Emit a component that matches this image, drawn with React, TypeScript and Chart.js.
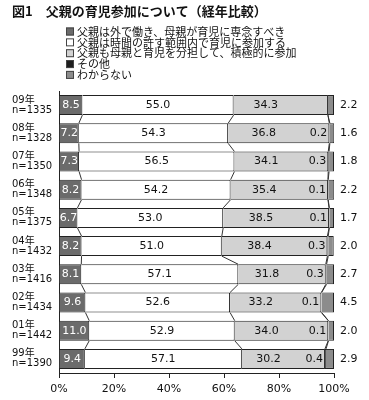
import { useEffect, useRef } from 'react';
import { Chart, registerables } from 'chart.js';

Chart.register(...registerables);

// ---- data ----
const years = ['09年', '08年', '07年', '06年', '05年', '04年', '03年', '02年', '01年', '99年'];
const sampleSizes = ['n=1335', 'n=1328', 'n=1350', 'n=1348', 'n=1375', 'n=1432', 'n=1416', 'n=1434', 'n=1442', 'n=1390'];
const seriesNames = [
  '父親は外で働き、母親が育児に専念すべき',
  '父親は時間の許す範囲内で育児に参加する',
  '父親も母親と育児を分担して、積極的に参加',
  'その他',
  'わからない',
];
const workOutside = [8.5, 7.2, 7.3, 8.2, 6.7, 8.2, 8.1, 9.6, 11.0, 9.4];
const whenTimeAllows = [55.0, 54.3, 56.5, 54.2, 53.0, 51.0, 57.1, 52.6, 52.9, 57.1];
const shareActively = [34.3, 36.8, 34.1, 35.4, 38.5, 38.4, 31.8, 33.2, 34.0, 30.2];
const otherAnswer = [0, 0.2, 0.3, 0.1, 0.1, 0.3, 0.3, 0.1, 0.1, 0.4];
const dontKnow = [2.2, 1.6, 1.8, 2.2, 1.7, 2.0, 2.7, 4.5, 2.0, 2.9];
const xTickValues = [0, 20, 40, 60, 80, 100];
const titleText = '図1　父親の育児参加について（経年比較）';

const seriesColors = ['#6b6b6b', '#ffffff', '#d2d2d2', '#1e1e1e', '#8c8c8c'];

const LATIN = "'DejaVu Sans', 'Noto Sans CJK JP', sans-serif";
const CJK = "'Noto Sans CJK JP', sans-serif";

const annotate = {
  id: 'annotate',
  afterDatasetsDraw(chart: any) {
    const ctx = chart.ctx;
    const metas = chart.data.datasets.map((_: any, i: number) => chart.getDatasetMeta(i));
    ctx.save();
    // connector lines between bars
    ctx.strokeStyle = '#333';
    ctx.lineWidth = 1;
    for (let k = 0; k < 4; k++) {
      const els = metas[k].data;
      for (let j = 0; j < els.length - 1; j++) {
        const a = els[j];
        const b = els[j + 1];
        ctx.beginPath();
        ctx.moveTo(a.x, a.y + a.height / 2);
        ctx.lineTo(b.x, b.y - b.height / 2);
        ctx.stroke();
      }
    }
    // value labels
    ctx.font = `11px ${LATIN}`;
    ctx.textBaseline = 'middle';
    metas.forEach((meta: any, i: number) => {
      const values = chart.data.datasets[i].data;
      meta.data.forEach((el: any, j: number) => {
        const v = values[j];
        const text = v.toFixed(1);
        const left = Math.min(el.base, el.x);
        const right = Math.max(el.base, el.x);
        if (i === 0) {
          ctx.fillStyle = '#ffffff';
          ctx.textAlign = 'center';
          ctx.fillText(text, (left + right) / 2, el.y);
        } else if (i === 1) {
          ctx.fillStyle = '#111';
          ctx.textAlign = 'center';
          ctx.fillText(text, (left + right) / 2, el.y);
        } else if (i === 2) {
          ctx.fillStyle = '#111';
          ctx.textAlign = 'center';
          ctx.fillText(text, (left + right - 30) / 2, el.y);
        } else if (i === 3) {
          if (v > 0) {
            ctx.fillStyle = '#111';
            ctx.textAlign = 'right';
            ctx.fillText(text, left - 2, el.y);
          }
        } else {
          ctx.fillStyle = '#111';
          ctx.textAlign = 'left';
          ctx.fillText(text, chart.chartArea.right + 6, el.y);
        }
      });
    });
    ctx.restore();
  },
};

const stackLegend = {
  id: 'stackLegend',
  afterDraw(chart: any) {
    const ctx = chart.ctx;
    ctx.save();
    ctx.font = `11px ${CJK}`;
    ctx.textBaseline = 'middle';
    ctx.textAlign = 'left';
    chart.data.datasets.forEach((ds: any, i: number) => {
      const cy = 31.5 + i * 10.85;
      ctx.fillStyle = ds.backgroundColor;
      ctx.fillRect(66, cy - 4, 8, 8);
      ctx.strokeStyle = '#444';
      ctx.lineWidth = 1;
      ctx.strokeRect(66.5, cy - 3.5, 7, 7);
      ctx.fillStyle = '#111';
      ctx.fillText(ds.label, 77, cy);
    });
    ctx.restore();
  },
};

export default function App() {
  const canvasRef = useRef<HTMLCanvasElement | null>(null);

  useEffect(() => {
    if (!canvasRef.current) return;
    const seriesData = [workOutside, whenTimeAllows, shareActively, otherAnswer, dontKnow];
    const chart = new Chart(canvasRef.current, {
      type: 'bar',
      data: {
        labels: years.map((y, i) => [y, sampleSizes[i]]),
        datasets: seriesData.map((d, i) => ({
          label: seriesNames[i],
          data: d,
          backgroundColor: seriesColors[i],
          borderColor: '#222',
          borderWidth: 1,
          borderSkipped: 'start',
          barPercentage: 0.71,
          categoryPercentage: 1,
        })),
      },
      options: {
        indexAxis: 'y',
        animation: false,
        responsive: false,
        devicePixelRatio: 1,
        layout: { padding: { left: 12, right: 35, top: 0, bottom: 0 } },
        plugins: {
          legend: { display: false },
          tooltip: { enabled: false },
          title: {
            display: true,
            text: titleText,
            align: 'start',
            color: '#111',
            font: { family: CJK, size: 13, weight: 'bold', lineHeight: 1.2 },
            padding: { top: 3, bottom: 72.4 },
          },
        },
        scales: {
          x: {
            type: 'linear',
            stacked: true,
            min: 0,
            max: 100,
            afterBuildTicks: (scale: any) => {
              scale.ticks = xTickValues.map((v) => ({ value: v }));
            },
            ticks: {
              callback: (v: any) => `${v}%`,
              color: '#111',
              font: { family: LATIN, size: 11, lineHeight: 1.2 },
              padding: 4.4,
              maxRotation: 0,
            },
            grid: { display: true, drawOnChartArea: false, drawTicks: true, tickLength: 5, color: '#222' },
            border: { display: true, color: '#222', width: 1 },
          },
          y: {
            type: 'category',
            stacked: true,
            afterFit: (scale: any) => {
              scale.width = 47;
            },
            ticks: {
              crossAlign: 'far',
              color: '#111',
              font: { family: LATIN, size: 10, lineHeight: 1.0 },
              padding: 4,
            },
            grid: { display: false },
            border: { display: true, color: '#222', width: 1 },
          },
        },
      },
      plugins: [annotate, stackLegend],
    } as any);
    return () => chart.destroy();
  }, []);

  return (
    <div style={{ position: 'absolute', left: 0, top: 0, width: 369, height: 400, background: '#fff' }}>
      <canvas ref={canvasRef} width={369} height={400} style={{ display: 'block' }} />
    </div>
  );
}
